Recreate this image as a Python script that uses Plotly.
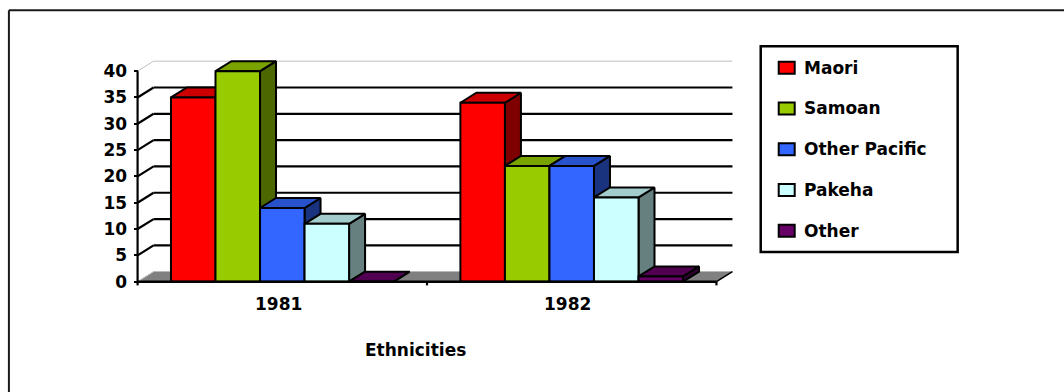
import plotly.graph_objects as go

# ---------------- data ----------------
years = ["1981", "1982"]
ethnic_groups = ["Maori", "Samoan", "Other Pacific", "Pakeha", "Other"]
share_1981 = [35, 40, 14, 11, 0]
share_1982 = [34, 22, 22, 16, 1]
value_ticks = [0, 5, 10, 15, 20, 25, 30, 35, 40]
axis_title = "Ethnicities"

series_by_year = [share_1981, share_1982]

# ---------------- styling ----------------
FRONT_COLORS = ["#FF0000", "#99CC00", "#3366FF", "#CCFFFF", "#660066"]
FONT = "DejaVu Sans"
FONT_SIZE = 17
FIG_W, FIG_H = 1064, 392

# front-plane geometry (pixels)
AX_X = 137.7          # front-left corner of the floor
BASE_Y = 281.7        # front floor edge (value 0)
PX_PER_CAT = 289.5
PX_PER_UNIT = 5.27
DEPTH_PX = (16.0, 10.0)   # oblique depth offset (right, up)

DX = DEPTH_PX[0] / PX_PER_CAT
DY = DEPTH_PX[1] / PX_PER_UNIT
YMAX = value_ticks[-1]

PAD_X = 0.04
PAD_Y = 1.2
x_range = [-0.5 - PAD_X, 1.5 + DX + PAD_X]
y_range = [-PAD_Y, YMAX + DY + 0.6]

plot_w = (x_range[1] - x_range[0]) * PX_PER_CAT
plot_h = (y_range[1] - y_range[0]) * PX_PER_UNIT
m_l = AX_X - (-0.5 - x_range[0]) * PX_PER_CAT
m_r = FIG_W - m_l - plot_w
m_b = FIG_H - BASE_Y - (0 - y_range[0]) * PX_PER_UNIT
m_t = FIG_H - m_b - plot_h


def px_x(px):
    return (px - m_l) / plot_w


def px_y(py):
    return (FIG_H - py - m_b) / plot_h


def shade(hex_color, f):
    h = hex_color.lstrip("#")
    r, g, b = (int(h[i:i + 2], 16) for i in (0, 2, 4))
    return "#%02X%02X%02X" % (int(r * f), int(g * f), int(b * f))


traces = []


def poly(xs, ys, fill, line="black", lw=2.0):
    traces.append(go.Scatter(
        x=xs, y=ys, mode="lines", fill="toself", fillcolor=fill,
        line=dict(color=line, width=lw), hoverinfo="skip", showlegend=False))


def seg(xs, ys, color="black", lw=2.0):
    traces.append(go.Scatter(
        x=xs, y=ys, mode="lines", line=dict(color=color, width=lw),
        hoverinfo="skip", showlegend=False))


# floor
poly([-0.5, 1.5, 1.5 + DX, -0.5 + DX, -0.5], [0, 0, DY, DY, 0], "#808080", line="#808080", lw=0.5)
seg([1.5, 1.5 + DX], [0, DY], "black", 1.5)

# back wall gridlines and depth ticks on the side wall
for v in value_ticks[1:]:
    col = "#C0C0C0" if v == YMAX else "black"
    w = 1.0 if v == YMAX else 2.2
    seg([-0.5 + DX, 1.5 + DX], [v + DY, v + DY], col, w)
    seg([-0.5, -0.5 + DX], [v, v + DY], col, w)
seg([-0.5, -0.5 + DX], [0, DY], "#C0C0C0", 1.0)

# columns
bw = 1 / 6.5
for c, vals in enumerate(series_by_year):
    start = c - 0.5 + 0.75 * bw
    for i, v in enumerate(vals):
        xl = start + i * bw
        xr = xl + bw
        col = FRONT_COLORS[i]
        poly([xr, xr + DX, xr + DX, xr, xr], [0, DY, v + DY, v, 0], shade(col, 0.5))
        poly([xl, xr, xr + DX, xl + DX, xl], [v, v, v + DY, v + DY, v], shade(col, 0.8))
        poly([xl, xr, xr, xl, xl], [0, 0, v, v, 0], col)

# front axes
seg([-0.5, 1.5], [0, 0], "black", 2.6)
seg([-0.5, -0.5], [-0.7, YMAX], "black", 2.2)
for xt in (0.5, 1.5):
    seg([xt, xt], [0, -0.7], "black", 2.2)

fig = go.Figure(traces)

shapes = []
annotations = []

# outer chart frame (top and left edges)
shapes.append(dict(type="line", xref="paper", yref="paper",
                   x0=px_x(9), y0=px_y(10), x1=px_x(FIG_W + 5), y1=px_y(10),
                   line=dict(color="#1A1A1A", width=2)))
shapes.append(dict(type="line", xref="paper", yref="paper",
                   x0=px_x(9), y0=px_y(10), x1=px_x(9), y1=px_y(FIG_H + 5),
                   line=dict(color="#1A1A1A", width=2)))

# legend box
shapes.append(dict(type="rect", xref="paper", yref="paper",
                   x0=px_x(761), y0=px_y(46), x1=px_x(958), y1=px_y(252),
                   line=dict(color="black", width=2.5), fillcolor="rgba(0,0,0,0)"))
for i, name in enumerate(ethnic_groups):
    cy = 67.5 + 40.8 * i
    shapes.append(dict(type="rect", xref="paper", yref="paper",
                       x0=px_x(779), y0=px_y(cy - 6), x1=px_x(795), y1=px_y(cy + 6),
                       line=dict(color="black", width=2), fillcolor=FRONT_COLORS[i]))
    annotations.append(dict(xref="paper", yref="paper", x=px_x(802), y=px_y(cy),
                            xanchor="left", yanchor="middle", showarrow=False,
                            text=name, font=dict(family=FONT, size=FONT_SIZE,
                                                  color="black", weight="bold")))

# category labels
for c, yr in enumerate(years):
    annotations.append(dict(xref="x", yref="y", x=c, y=0, xanchor="center",
                            yanchor="middle", yshift=-22, xshift=-4, showarrow=False,
                            text=yr, font=dict(family=FONT, size=FONT_SIZE,
                                               color="black", weight="bold")))

# axis title
annotations.append(dict(xref="paper", yref="paper", x=px_x(416), y=px_y(350),
                        xanchor="center", yanchor="middle", showarrow=False,
                        text=axis_title, font=dict(family=FONT, size=FONT_SIZE,
                                                   color="black", weight="bold")))

fig.update_layout(
    width=FIG_W, height=FIG_H,
    margin=dict(l=m_l, r=m_r, t=m_t, b=m_b, pad=0),
    paper_bgcolor="white", plot_bgcolor="white",
    showlegend=False,
    shapes=shapes, annotations=annotations,
    xaxis=dict(range=x_range, visible=False, fixedrange=True),
    yaxis=dict(range=y_range, anchor="free", position=px_x(AX_X),
               showgrid=False, zeroline=False, showline=False,
               tickvals=value_ticks, ticks="outside", ticklen=4, tickwidth=2,
               tickcolor="black", ticklabelstandoff=3,
               tickfont=dict(family=FONT, size=FONT_SIZE, color="black", weight="bold"),
               fixedrange=True),
)

fig.write_html("out.html")
